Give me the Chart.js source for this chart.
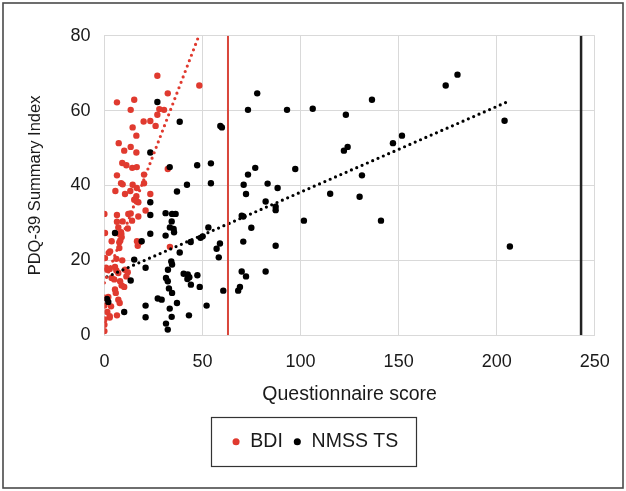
<!DOCTYPE html>
<html><head><meta charset="utf-8">
<script src="https://cdn.jsdelivr.net/npm/chart.js@4.4.1/dist/chart.umd.min.js"></script>
<style>html,body{margin:0;padding:0;background:#fff;}#wrap{width:626px;height:491px;position:relative;}</style>
</head><body><div id="wrap"><canvas id="c" width="626" height="491"></canvas></div>
<script>
// ---- data ----
const bdiX = [27,48.4,6.4,15.2,13.4,32.3,28,30.4,27,20,23.4,26.1,14.4,16.3,7.3,13.4,10.1,16.3,9.1,11.2,14.2,16.5,6.4,20.2,8.5,9.3,14.4,16.5,20.2,32.3,5.6,10.5,13.2,16.3,15.2,16.5,17.3,23.4,21,0,6.4,12.2,13.4,17.3,6.4,9.3,14.1,7.1,0.3,8.5,7.4,8.8,8.1,11.9,16.6,17,18,3.7,7.6,7.6,33.4,2.9,2.2,0.3,0.8,6.1,9.1,1.3,2.7,5.4,6.1,7.1,10.5,11.9,11.2,3.7,5,8,8.8,10.1,5.4,5.8,0,2,0,3.4,7.1,7.8,1.5,2.7,2.7,6.4,0,0,0];
const bdiY = [69.3,66.7,62.2,62.9,60.2,64.6,60.4,60.2,58.9,57.1,57.2,55.9,55.5,53.3,51.3,50.3,49.3,48.8,46,45.4,44.7,44.9,42.7,42.9,40.6,40.3,40.2,39.3,40.6,44.4,38.5,37.7,38.5,37.1,36.2,35.7,35.5,37.7,33.3,32.4,32.1,32.4,32.5,31.7,30.3,30.4,30.6,28.8,27.3,27.5,27.1,26.2,25.3,28.5,25.1,23.9,24.8,25.1,24.8,23.3,23.6,22.4,22,20.6,18,20.4,20,17.5,17.7,18.2,17.3,16.6,17.5,16.8,15.7,15.3,14.9,14.4,13.3,12.9,12.2,11.3,10,10.2,7.9,7.7,9.5,8.6,6.2,5.1,4.7,5.3,4.2,2.8,1.1];
const nmssX = [27,38.4,59.1,59.9,23.4,33.3,47.3,54.3,42.1,54.3,71,23.4,37,23.4,31.2,34.5,36.3,34.3,33.4,35.3,35.5,5.4,23.4,31.2,19,38.4,44,50.1,49,53,58.9,57.2,58.3,70,70.8,15.2,21,34.1,34.5,32.4,40.4,42.5,43.3,42.3,47.4,31.4,32.3,44.1,48.6,13.4,32.9,34.5,60.6,68.2,69.1,27.2,29.2,1.3,2,37,21,33.3,52.1,10.1,21,34.3,43.1,31.4,32.3,77.9,73.2,93.1,106.2,123.1,136.4,122.1,124,147.1,151.7,73.2,76.9,97.3,131.3,83.2,88.3,72.2,82.2,87.3,87.3,70.8,115.1,130.1,101.7,141,74.9,87.3,70,72.2,82.2,174,180,204,206.7];
const nmssY = [62.3,57,55.9,55.5,48.8,44.9,45.4,45.9,40.2,40.6,40.2,35.5,38.4,32.1,32.6,32.4,32.4,30.4,28.8,28.4,27.5,27.3,27.1,26.6,25.1,22.1,24.9,26.4,26,28.8,24.5,23.1,20.8,31.9,25,20.2,18,19.7,18.9,17.5,16.4,16.2,15.5,15,16,15.3,14.4,13.5,12.9,14.6,12.5,11.3,11.9,11.9,12.9,9.8,9.5,9.7,8.9,8.6,7.9,7.1,7.9,6.2,4.8,4.9,5.3,3.1,1.5,64.6,60.2,60.2,60.5,58.9,62.9,49.3,50.3,51.3,53.3,42.9,44.7,44.4,42.7,40.5,39.3,37.7,35.7,34.3,33.4,31.7,37.8,37,30.6,30.6,28.7,23.9,17,15.7,17,66.7,69.6,57.3,23.7];
const xTicks = [0, 50, 100, 150, 200, 250];
const yTicks = [0, 20, 40, 60, 80];
const seriesNames = ['BDI', 'NMSS TS'];
const maxScores = [63, 243];            // vertical reference lines (BDI, NMSS TS)
const trendSlopes = [1.37, 0.229];      // dotted linear trend lines
const trendIntercepts = [14, 15.3];

// ---- build ----
const RED = '#e03a2f', BLACK = '#000000';
const FONT = 'Liberation Sans, Arial, sans-serif';
const pts = (xs, ys) => xs.map((x, i) => ({x, y: ys[i]}));
const trend = (xs, k) => {
  const lo = Math.min(...xs), hi = Math.max(...xs);
  return [lo, hi].map(x => ({x, y: trendIntercepts[k] + trendSlopes[k] * x}));
};
const vline = (k) => yTicks.filter((v, i) => i === 0 || i === yTicks.length - 1).map(y => ({x: maxScores[k], y}));

const frame = {
  id: 'frame',
  afterLayout(chart) {
    const lg = chart.legend;
    if (lg) { lg.left += 16; lg.right += 16; }
  },
  afterDraw(chart) {
    const ctx = chart.ctx;
    ctx.save();
    ctx.strokeStyle = '#4a4a4a';
    ctx.lineWidth = 1.6;
    ctx.strokeRect(3, 3, 620, 485);
    const hb = chart.legend.legendHitBoxes;
    if (hb && hb.length) {
      const l = Math.min(...hb.map(h => h.left)) - 21;
      const r = Math.max(...hb.map(h => h.left + h.width)) + 17;
      const cy = hb[0].top + hb[0].height / 2;
      ctx.strokeStyle = '#333';
      ctx.lineWidth = 1.2;
      ctx.strokeRect(Math.round(l) + 0.5, Math.round(cy - 24.5) + 0.5, Math.round(r - l), 49);
    }
    ctx.restore();
  }
};

new Chart(document.getElementById('c'), {
  type: 'scatter',
  data: {
    datasets: [
      {label: seriesNames[0], data: pts(bdiX, bdiY), backgroundColor: RED, borderColor: RED, pointRadius: 3.2, pointBorderWidth: 0, order: 3},
      {label: seriesNames[1], data: pts(nmssX, nmssY), backgroundColor: BLACK, borderColor: BLACK, pointRadius: 3.2, pointBorderWidth: 0, order: 2},
      {label: 'bdiTrend', type: 'line', data: trend(bdiX, 0), borderColor: RED, borderWidth: 3.2, borderDash: [0, 5.8], borderCapStyle: 'round', pointRadius: 0, fill: false, order: 1},
      {label: 'nmssTrend', type: 'line', data: trend(nmssX, 1), borderColor: BLACK, borderWidth: 3.2, borderDash: [0, 5.8], borderCapStyle: 'round', pointRadius: 0, fill: false, order: 1},
      {label: 'bdiMax', type: 'line', data: vline(0), borderColor: '#d9463b', borderWidth: 2, pointRadius: 0, fill: false, order: 0},
      {label: 'nmssMax', type: 'line', data: vline(1), borderColor: '#222', borderWidth: 2.5, pointRadius: 0, fill: false, order: 0}
    ]
  },
  options: {
    responsive: false,
    animation: false,
    events: [],
    layout: {padding: {left: 3, right: 31.2, top: 35.7, bottom: 29.5}},
    plugins: {
      tooltip: {enabled: false},
      legend: {
        position: 'bottom',
        labels: {
          filter: (item) => seriesNames.includes(item.text),
          sort: (a, b) => a.datasetIndex - b.datasetIndex,
          usePointStyle: true, pointStyle: 'circle', boxWidth: 9, boxHeight: 5,
          padding: 10, color: '#1a1a1a', font: {family: FONT, size: 19.5}
        }
      }
    },
    scales: {
      x: {
        type: 'linear', min: xTicks[0], max: xTicks[xTicks.length - 1],
        afterBuildTicks: (s) => { s.ticks = xTicks.map(v => ({value: v})); },
        afterFit: (s) => { s.height = 86.8; },
        grid: {color: '#d9d9d9', lineWidth: 1, drawTicks: false},
        border: {color: '#d9d9d9'},
        ticks: {padding: 16, color: '#1a1a1a', font: {family: FONT, size: 18}},
        title: {display: true, text: 'Questionnaire score', color: '#1a1a1a', font: {family: FONT, size: 19.5}, padding: {top: 0, bottom: 16}}
      },
      y: {
        min: yTicks[0], max: yTicks[yTicks.length - 1],
        afterBuildTicks: (s) => { s.ticks = yTicks.map(v => ({value: v})); },
        afterFit: (s) => { s.width = 101.4; },
        grid: {color: '#d9d9d9', lineWidth: 1, drawTicks: false},
        border: {color: '#d9d9d9'},
        ticks: {padding: 14, color: '#1a1a1a', font: {family: FONT, size: 18}},
        title: {display: true, text: 'PDQ-39 Summary Index', color: '#1a1a1a', font: {family: FONT, size: 16.5}, padding: {top: 23, bottom: 0}}
      }
    }
  },
  plugins: [frame]
});
</script>
</body></html>
